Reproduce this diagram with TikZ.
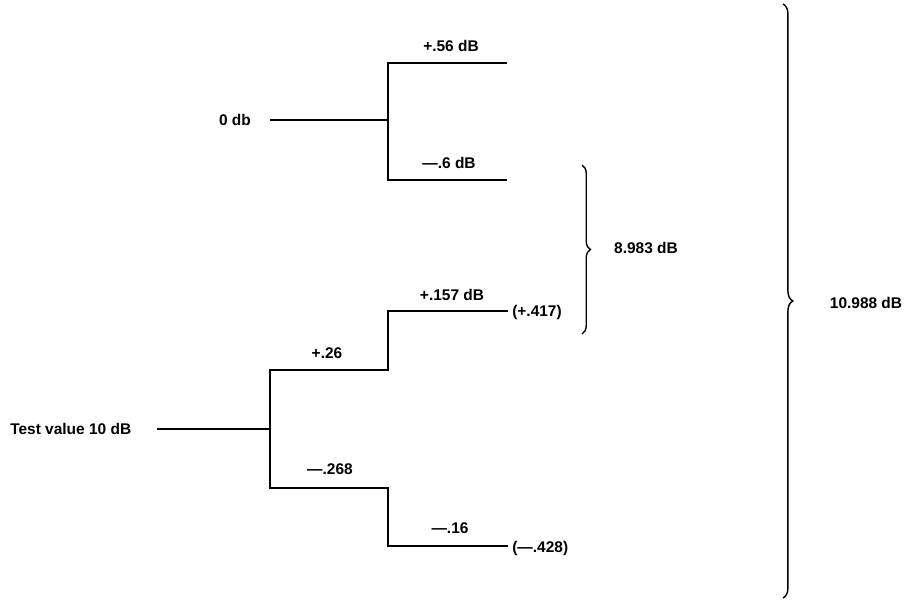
\documentclass[tikz,border=0pt]{standalone}
\usepackage{fontspec}
\setmainfont{Liberation Sans}
\usetikzlibrary{decorations.pathreplacing}

\begin{document}
\begin{tikzpicture}[x=0.025cm,y=-0.025cm,
  wire/.style={line width=1.2pt},
  lbl/.style={font=\bfseries\fontsize{11}{13}\selectfont,inner sep=0pt},
  brc/.style={line width=1pt,decorate,decoration={brace,amplitude=#1}}]
  \useasboundingbox (0,0) rectangle (906,599);
  % upper pair
  \node[lbl] (zerodb) at (235,120) {0 db};
  \coordinate (a0) at (270,120);
  \coordinate (a1) at (388,63);
  \coordinate (a2) at (388,180);
  \coordinate (a3) at (507,63);
  \coordinate (a4) at (507,180);
  \draw[wire] (a0) -- (a0 -| a1);
  \draw[wire] (a3) -- (a1) -- (a2) -- (a4);
  \node[lbl] (up56) at (451,46) {+.56 dB};
  \node[lbl] (dn6) at (449,163) {—.6 dB};
  % test value tree
  \node[lbl,anchor=west] (testval) at (10,429) {Test value 10 dB};
  \coordinate (s0) at (157,429);
  \coordinate (s1) at (270,370);
  \coordinate (s2) at (270,488);
  \coordinate (s3) at (388,370);
  \coordinate (s4) at (388,311);
  \coordinate (s5) at (508,311);
  \coordinate (s6) at (388,488);
  \coordinate (s7) at (388,546);
  \coordinate (s8) at (508,546);
  \draw[wire] (s0) -- (s0 -| s1);
  \draw[wire] (s5) -- (s4) -- (s3) -- (s1) -- (s2) -- (s6) -- (s7) -- (s8);
  \node[lbl] (up26) at (327,353) {+.26};
  \node[lbl] (up157) at (452,295) {+.157 dB};
  \node[lbl] (dn268) at (330,469) {—.268};
  \node[lbl] (dn16) at (450,528) {—.16};
  \node[lbl,anchor=west] (sum417) at (512,312) {(+.417)};
  \node[lbl,anchor=west] (sum428) at (512,548) {(—.428)};
  % braces
  \coordinate (b1) at (582,165);
  \coordinate (b2) at (582,334);
  \draw[brc=6pt] (b1) -- (b2);
  \node[lbl] (tot8983) at (646,248) {8.983 dB};
  \coordinate (c1) at (783,4);
  \coordinate (c2) at (783,598);
  \draw[brc=7pt] (c1) -- (c2);
  \node[lbl] (tot10988) at (866,303) {10.988 dB};
\end{tikzpicture}
\end{document}
